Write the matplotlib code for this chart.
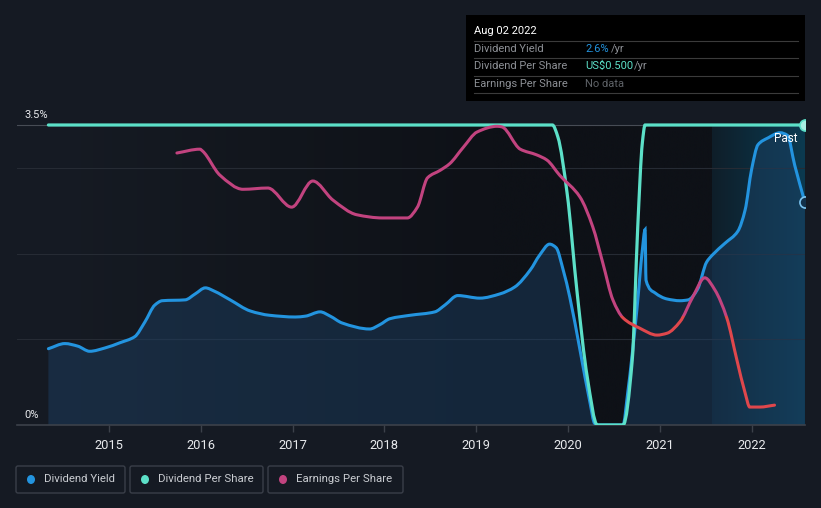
import numpy as np
import matplotlib
matplotlib.use("Agg")
import matplotlib.pyplot as plt
from matplotlib.colors import LinearSegmentedColormap
from matplotlib.patches import Rectangle, FancyBboxPatch, Ellipse, PathPatch
from matplotlib.path import Path

# ---------------- data ----------------
yield_years = [2014.34, 2014.52, 2014.66, 2014.79, 2014.96, 2015.12, 2015.28, 2015.39, 2015.50,
               2015.58, 2015.83, 2015.94, 2016.05, 2016.15, 2016.32, 2016.54, 2016.75, 2017.03,
               2017.14, 2017.30, 2017.41, 2017.54, 2017.84, 2017.95, 2018.06, 2018.28, 2018.55,
               2018.66, 2018.80, 2019.04, 2019.26, 2019.42, 2019.59, 2019.69, 2019.80, 2019.87,
               2019.95, 2020.02, 2020.13, 2020.24, 2020.29, 2020.33, 2020.60, 2020.65, 2020.75,
               2020.81, 2020.84, 2020.85, 2020.95, 2021.08, 2021.22, 2021.31, 2021.41, 2021.51,
               2021.57, 2021.71, 2021.85, 2021.93, 2022.00, 2022.07, 2022.18, 2022.31, 2022.39,
               2022.47, 2022.58]
yield_pct = [0.89, 0.95, 0.92, 0.86, 0.90, 0.96, 1.03, 1.20, 1.40,
             1.45, 1.46, 1.53, 1.60, 1.56, 1.46, 1.33, 1.28, 1.26,
             1.27, 1.32, 1.27, 1.19, 1.12, 1.17, 1.24, 1.28, 1.32,
             1.40, 1.51, 1.48, 1.53, 1.61, 1.81, 1.98, 2.11, 2.07,
             1.80, 1.49, 0.88, 0.26, 0.02, 0.0, 0.0, 0.37, 1.34,
             2.04, 2.28, 1.69, 1.54, 1.47, 1.45, 1.46, 1.58, 1.90,
             1.98, 2.12, 2.26, 2.51, 2.98, 3.27, 3.35, 3.41, 3.38,
             3.03, 2.60]

dps_years = [2014.34, 2019.83, 2019.89, 2019.99, 2020.10, 2020.21, 2020.32, 2020.60,
             2020.70, 2020.76, 2020.81, 2020.84, 2022.58]
dps_usd = [0.5, 0.5, 0.48, 0.387, 0.22, 0.08, 0.0, 0.0,
           0.108, 0.33, 0.47, 0.5, 0.5]

eps_years = [2015.74, 2015.99, 2016.02, 2016.21, 2016.46, 2016.73, 2016.99, 2017.22, 2017.44,
             2017.70, 2017.98, 2018.25, 2018.36, 2018.47, 2018.61, 2018.71, 2018.86, 2019.01,
             2019.23, 2019.28, 2019.48, 2019.66, 2019.77, 2019.91, 2020.13, 2020.27, 2020.38,
             2020.49, 2020.60, 2020.78, 2020.97, 2021.08, 2021.22, 2021.36, 2021.49, 2021.60,
             2021.73, 2021.84, 2021.93, 2021.98, 2022.09, 2022.25]
eps_usd = [0.256, 0.262, 0.259, 0.221, 0.199, 0.201, 0.171, 0.212, 0.182,
           0.159, 0.154, 0.154, 0.171, 0.217, 0.229, 0.239, 0.265, 0.289,
           0.298, 0.297, 0.262, 0.253, 0.245, 0.221, 0.187, 0.140, 0.083,
           0.025, -0.003, -0.019, -0.030, -0.027, -0.009, 0.030, 0.060, 0.041,
           -0.003, -0.069, -0.121, -0.143, -0.143, -0.140]

tick_years = [2015, 2016, 2017, 2018, 2019, 2020, 2021, 2022]
tick_labels = ["2015", "2016", "2017", "2018", "2019", "2020", "2021", "2022"]
past_start = 2021.57


def monotone_path(xs, ys, close_to=None):
    """Smooth monotone-cubic (Bezier) path through the given points."""
    x = np.asarray(xs, float)
    y = np.asarray(ys, float)
    h = np.diff(x)
    d = np.diff(y) / h
    m = np.zeros_like(x)
    m[0], m[-1] = d[0], d[-1]
    for i in range(1, len(x) - 1):
        if d[i - 1] * d[i] <= 0:
            m[i] = 0.0
        else:
            w1 = 2 * h[i] + h[i - 1]
            w2 = h[i] + 2 * h[i - 1]
            m[i] = (w1 + w2) / (w1 / d[i - 1] + w2 / d[i])
    verts = [(x[0], y[0])]
    codes = [Path.MOVETO]
    for i in range(len(x) - 1):
        t = h[i] / 3
        verts += [(x[i] + t, y[i] + m[i] * t), (x[i + 1] - t, y[i + 1] - m[i + 1] * t), (x[i + 1], y[i + 1])]
        codes += [Path.CURVE4] * 3
    if close_to is not None:
        verts += [(x[-1], close_to), (x[0], close_to), (x[0], y[0])]
        codes += [Path.LINETO, Path.LINETO, Path.CLOSEPOLY]
    return Path(verts, codes)


# ---------------- style ----------------
BG = "#151a23"
C_YIELD = "#2394df"
C_DPS = "#5ce0c8"
C_EPS = "#c2437f"
C_EPS_NEG = "#e0474c"
FONT = "Roboto"

W, H = 821, 508
fig = plt.figure(figsize=(W / 100, H / 100), dpi=100, facecolor=BG)

xl_px, xr_px, yb_px, yt_px = 17, 805, 425, 105
ax = fig.add_axes([xl_px / W, (H - yb_px) / H, (xr_px - xl_px) / W, (yb_px - yt_px) / H])
ax.set_facecolor(BG)
x0, x1 = 2013.998, 2022.582
ymax = 3.5 * (yb_px - yt_px) / (yb_px - 125)

cm_dark = LinearSegmentedColormap.from_list("d", ["#161b24", "#12161d", "#0e1117", "#0e1117"])
ax.imshow(np.linspace(0, 1, 256).reshape(1, -1), extent=(yield_years[0], past_start, 0, 3.5),
          cmap=cm_dark, aspect="auto", zorder=0, interpolation="bicubic")
cm_past = LinearSegmentedColormap.from_list("p", ["#0f1e29", "#0c2d3e", "#0b3a50"])
ax.imshow(np.linspace(0, 1, 256).reshape(1, -1), extent=(past_start, x1, 0, 3.5),
          cmap=cm_past, aspect="auto", zorder=0, interpolation="bicubic")

for gy in [1, 2, 3]:
    ax.plot([x0, x1], [gy, gy], color="#262b34", lw=0.8, zorder=0.5)
ax.plot([x0, x1], [3.5, 3.5], color="#474c55", lw=0.8, zorder=0.5)

# dividend yield
ax.add_patch(PathPatch(monotone_path(yield_years, yield_pct, close_to=0.0), facecolor="#1d4166",
                       alpha=0.45, lw=0, zorder=1))
ax.add_patch(PathPatch(monotone_path(yield_years, yield_pct), facecolor="none", edgecolor=C_YIELD,
                       lw=2.2, zorder=3, capstyle="round"))
ax.plot([yield_years[-1]], [yield_pct[-1]], "o", ms=8, mfc="#123049", mec="#7cc4f0", mew=1.2, zorder=6)

# dividend per share (0.5 USD <-> 3.5 on the axis)
dps_scaled = [v / 0.5 * 3.5 for v in dps_usd]
ax.add_patch(PathPatch(monotone_path(dps_years, dps_scaled), facecolor="none", edgecolor=C_DPS,
                       lw=2.3, zorder=4, capstyle="round"))
ax.plot([dps_years[-1]], [dps_scaled[-1]], "o", ms=8, mfc="#a8efe2", mec=C_DPS, mew=1.2, zorder=6)

ax.set_xlim(x0, x1)
ax.set_ylim(0, ymax)

# EPS on a twin axis (0 at pixel 316)
ax2 = ax.twinx()
k = 636.7
ax2.set_ylim((316 - yb_px) / k, (316 - yt_px) / k)
ax2.set_xlim(x0, x1)
ax2.axis("off")
eps_path = monotone_path(eps_years, eps_usd)
p_pos = PathPatch(eps_path, facecolor="none", edgecolor=C_EPS, lw=2.2, zorder=5, capstyle="round",
                  transform=ax2.transData)
p_neg = PathPatch(eps_path, facecolor="none", edgecolor=C_EPS_NEG, lw=2.2, zorder=5, capstyle="round",
                  transform=ax2.transData)
ax2.add_patch(p_pos)
ax2.add_patch(p_neg)
p_pos.set_clip_path(Rectangle((x0 - 1, 0), 20, 5, transform=ax2.transData))
p_neg.set_clip_path(Rectangle((x0 - 1, -5), 20, 5, transform=ax2.transData))

for s in ["top", "right", "left"]:
    ax.spines[s].set_visible(False)
ax.spines["bottom"].set_color("#3c414a")
ax.spines["bottom"].set_linewidth(1.2)
ax.set_yticks([])
ax.set_xticks(tick_years)
ax.set_xticklabels(tick_labels, family=FONT, fontsize=9.3, color="#e8eaed")
ax.tick_params(axis="x", colors="#3c414a", length=5, width=1, pad=5, labelcolor="#e8eaed")

ax.text(2014.08, 3.5 + 0.06, "3.5%", color="#e8eaed", fontsize=8, family=FONT, va="bottom", zorder=7)
ax.text(2014.08, 0.06, "0%", color="#e8eaed", fontsize=8, family=FONT, va="bottom", zorder=7)
ax.text(2022.37, 3.34, "Past", color="#ffffff", fontsize=8.5, family=FONT, ha="center", va="center", zorder=7)

# ---------------- overlay (tooltip, legend) ----------------
ov = fig.add_axes([0, 0, 1, 1], facecolor="none")
ov.set_xlim(0, W)
ov.set_ylim(H, 0)
ov.axis("off")

ov.add_patch(Rectangle((466, 15), 339, 86, facecolor="#000000", edgecolor="none"))
ov.text(474, 31, "Aug 02 2022", color="#ffffff", fontsize=8, family=FONT, va="center")
for sy in [41, 58, 76, 93]:
    ov.plot([474, 798], [sy, sy], color="#3b3b3b", lw=0.8)
rows = [("Dividend Yield", 49), ("Dividend Per Share", 66), ("Earnings Per Share", 84)]
for lab, ry in rows:
    ov.text(474, ry, lab, color="#8d9096", fontsize=8, family=FONT, va="center")
ov.text(585, 49, "2.6%", color=C_YIELD, fontsize=8, family=FONT, va="center")
ov.text(611, 49, "/yr", color="#8d9096", fontsize=8, family=FONT, va="center")
ov.text(585, 66, "US$0.500", color=C_DPS, fontsize=8, family=FONT, va="center")
ov.text(634, 66, "/yr", color="#8d9096", fontsize=8, family=FONT, va="center")
ov.text(585, 84, "No data", color="#5f6368", fontsize=8, family=FONT, va="center")

legend_items = [("Dividend Yield", C_YIELD, 16, 125), ("Dividend Per Share", C_DPS, 130, 263),
                ("Earnings Per Share", C_EPS, 268, 403)]
for lab, col, bx0, bx1 in legend_items:
    ov.add_patch(FancyBboxPatch((bx0, 466), bx1 - bx0, 27, boxstyle="round,pad=0,rounding_size=2",
                                facecolor=BG, edgecolor="#3a3f49", lw=1))
    ov.add_patch(Ellipse((bx0 + 15, 479.5), 8, 9, facecolor=col, edgecolor="none"))
    ov.text(bx0 + 28, 479.5, lab, color="#c9ccd1", fontsize=8.2, family=FONT, va="center")

fig.savefig("out.png", dpi=100, facecolor=BG)
